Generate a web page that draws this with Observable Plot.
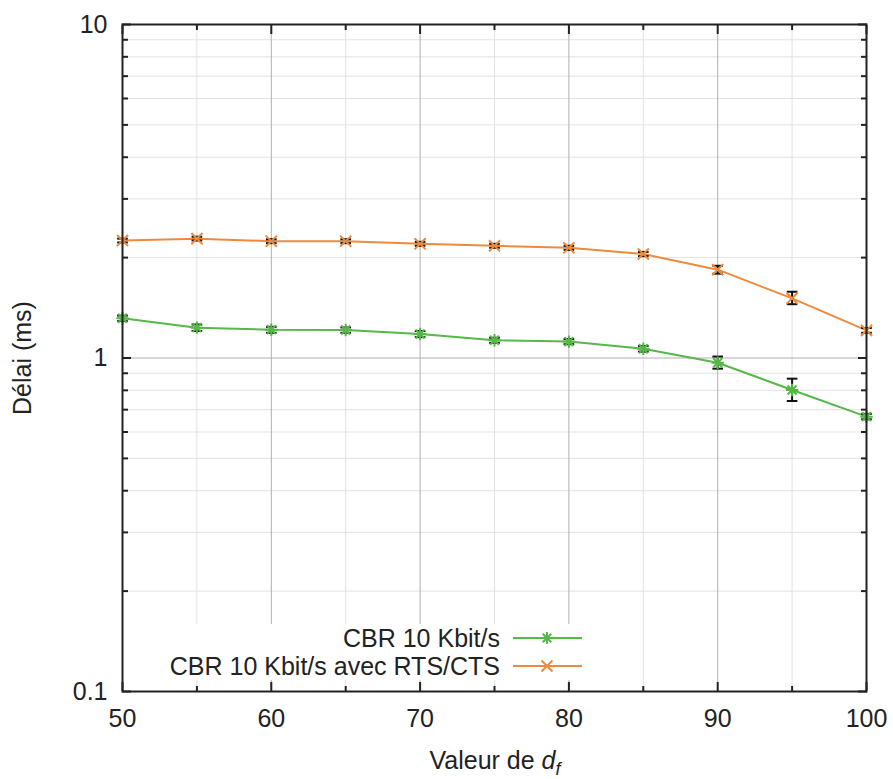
<!DOCTYPE html>
<html><head><meta charset="utf-8">
<script src="https://cdn.jsdelivr.net/npm/d3@7"></script>
<script src="https://cdn.jsdelivr.net/npm/@observablehq/plot@0.6"></script>
<style>
body{margin:0;background:#fff;font-family:"Liberation Sans",Arial,sans-serif;color:#222}
#wrap{position:relative;width:893px;height:779px}
#legend{position:absolute;left:150px;top:624px;width:434px;height:56px;background:#fff}
.lrow{position:absolute;right:0;height:28px;display:flex;align-items:center;font-size:25px;line-height:28px;white-space:nowrap}
.lrow span{margin-right:12px}
#xlabel{position:absolute;left:0;width:990px;top:746px;text-align:center;font-size:25px;line-height:28px;white-space:nowrap}
</style></head><body><div id="wrap"></div>
<script>
// ---- data ----
const df = [50, 55, 60, 65, 70, 75, 80, 85, 90, 95, 100];
const cbr     = [1.316, 1.233, 1.216, 1.213, 1.18, 1.13, 1.12, 1.066, 0.968, 0.802, 0.667];
const cbrLow  = [1.29, 1.205, 1.19, 1.19, 1.155, 1.11, 1.10, 1.045, 0.929, 0.743, 0.655];
const cbrHigh = [1.34, 1.26, 1.24, 1.235, 1.205, 1.15, 1.14, 1.087, 1.01, 0.867, 0.68];
const rts     = [2.25, 2.28, 2.24, 2.24, 2.20, 2.17, 2.14, 2.05, 1.84, 1.51, 1.21];
const rtsLow  = [2.22, 2.25, 2.21, 2.21, 2.17, 2.14, 2.11, 2.02, 1.79, 1.45, 1.19];
const rtsHigh = [2.28, 2.31, 2.27, 2.27, 2.23, 2.20, 2.17, 2.08, 1.89, 1.58, 1.23];
const seriesNames = ["CBR 10 Kbit/s", "CBR 10 Kbit/s avec RTS/CTS"];
const seriesColors = ["#55b848", "#ef8a3c"];
const xTicks = [50, 60, 70, 80, 90, 100];
const xMinor = [55, 65, 75, 85, 95];
const yTicks = [0.1, 1, 10];
const yMinor = [0.2,0.3,0.4,0.5,0.6,0.7,0.8,0.9,2,3,4,5,6,7,8,9];

// ---- table ----
const rows = [];
df.forEach((x, i) => {
  rows.push({x, y: cbr[i], lo: cbrLow[i], hi: cbrHigh[i], s: seriesNames[0]});
  rows.push({x, y: rts[i], lo: rtsLow[i], hi: rtsHigh[i], s: seriesNames[1]});
});

// custom symbols
const star = {draw(c, size){ const r = Math.sqrt(size)/2; const d = r*0.72;
  c.moveTo(-r,0); c.lineTo(r,0); c.moveTo(0,-r); c.lineTo(0,r);
  c.moveTo(-d,-d); c.lineTo(d,d); c.moveTo(-d,d); c.lineTo(d,-d);} };
const cross = {draw(c, size){ const r = Math.sqrt(size)/2*0.9;
  c.moveTo(-r,-r); c.lineTo(r,r); c.moveTo(-r,r); c.lineTo(r,-r);} };
const cap = {draw(c, size){ const r = Math.sqrt(size)/2;
  c.moveTo(-r,0); c.lineTo(r,0);} };

const chart = Plot.plot({
  width: 893, height: 779,
  marginLeft: 122, marginRight: 27, marginTop: 24, marginBottom: 88,
  style: {fontFamily: '"Liberation Sans", Arial, sans-serif', fontSize: "25px", color: "#222", background: "#fff"},
  x: {domain: [50, 100]},
  y: {type: "log", domain: [0.1, 10]},
  color: {domain: seriesNames, range: seriesColors},
  marks: [
    Plot.gridY(yMinor, {stroke: "#e2e2e2", strokeOpacity: 1, strokeWidth: 1}),
    Plot.gridX(xMinor, {stroke: "#e2e2e2", strokeOpacity: 1, strokeWidth: 1}),
    Plot.gridY([1], {stroke: "#b0b0b0", strokeOpacity: 1, strokeWidth: 1}),
    Plot.gridX(xTicks.slice(1, -1), {stroke: "#b0b0b0", strokeOpacity: 1, strokeWidth: 1}),
    // tick marks (inward, mirrored)
    Plot.axisY(yTicks, {anchor: "left", tickSize: -9, fill: "none", label: null, strokeWidth: 2, stroke: "#222"}),
    Plot.axisY(yTicks, {anchor: "right", tickSize: -9, fill: "none", label: null, strokeWidth: 2, stroke: "#222"}),
    Plot.axisY(yMinor, {anchor: "left", tickSize: -6, fill: "none", label: null, strokeWidth: 2, stroke: "#222"}),
    Plot.axisY(yMinor, {anchor: "right", tickSize: -6, fill: "none", label: null, strokeWidth: 2, stroke: "#222"}),
    Plot.axisX(xTicks, {anchor: "bottom", tickSize: -9, fill: "none", label: null, strokeWidth: 2, stroke: "#222"}),
    Plot.axisX(xTicks, {anchor: "top", tickSize: -9, fill: "none", label: null, strokeWidth: 2, stroke: "#222"}),
    Plot.axisX(xMinor, {anchor: "bottom", tickSize: -5, fill: "none", label: null, strokeWidth: 2, stroke: "#222"}),
    Plot.axisX(xMinor, {anchor: "top", tickSize: -5, fill: "none", label: null, strokeWidth: 2, stroke: "#222"}),
    // labels
    Plot.axisY(yTicks, {anchor: "left", tickSize: 0, tickPadding: 15, tickFormat: d => String(d), fontSize: 25,
      label: "Délai (ms)", labelAnchor: "center", labelOffset: 109, labelArrow: "none"}),
    Plot.axisX(xTicks, {anchor: "bottom", tickSize: 0, tickPadding: 18, tickFormat: d => String(d), fontSize: 25, label: null}),
    // data
    Plot.line(rows, {x: "x", y: "y", z: "s", stroke: "s", strokeWidth: 2}),
    Plot.ruleX(rows, {x: "x", y1: "lo", y2: "hi", stroke: "#111", strokeWidth: 2}),
    Plot.dot(rows, {x: "x", y: "lo", symbol: cap, r: 6, stroke: "#111", strokeWidth: 2}),
    Plot.dot(rows, {x: "x", y: "hi", symbol: cap, r: 6, stroke: "#111", strokeWidth: 2}),
    Plot.dot(rows.filter(d => d.s === seriesNames[0]), {x: "x", y: "y", symbol: star, r: 7, stroke: seriesColors[0], strokeWidth: 2}),
    Plot.dot(rows.filter(d => d.s === seriesNames[1]), {x: "x", y: "y", symbol: cross, r: 7, stroke: seriesColors[1], strokeWidth: 2}),
    Plot.frame({stroke: "#222", strokeWidth: 2})
  ]
});
const wrap = document.getElementById("wrap");
wrap.appendChild(chart);

// legend
const legend = document.createElement("div");
legend.id = "legend";
seriesNames.forEach((name, i) => {
  const row = document.createElement("div");
  row.className = "lrow";
  row.style.top = (i * 28) + "px";
  const sym = i === 0
    ? '<path d="M-6,0H6M0,-6V6M-4.3,-4.3L4.3,4.3M-4.3,4.3L4.3,-4.3"/>'
    : '<path d="M-5.5,-5.5L5.5,5.5M-5.5,5.5L5.5,-5.5"/>';
  row.innerHTML = `<span>${name}</span><svg width="72" height="20"><line x1="1" x2="70" y1="10" y2="10" stroke="${seriesColors[i]}" stroke-width="2"/><g transform="translate(35,10)" stroke="${seriesColors[i]}" stroke-width="2" fill="none">${sym}</g></svg>`;
  legend.appendChild(row);
});
wrap.appendChild(legend);

const xl = document.createElement("div");
xl.id = "xlabel";
xl.innerHTML = 'Valeur de <i>d</i><span style="font-size:18px;position:relative;top:6px"><i>f</i></span>';
wrap.appendChild(xl);
</script>
</body></html>
